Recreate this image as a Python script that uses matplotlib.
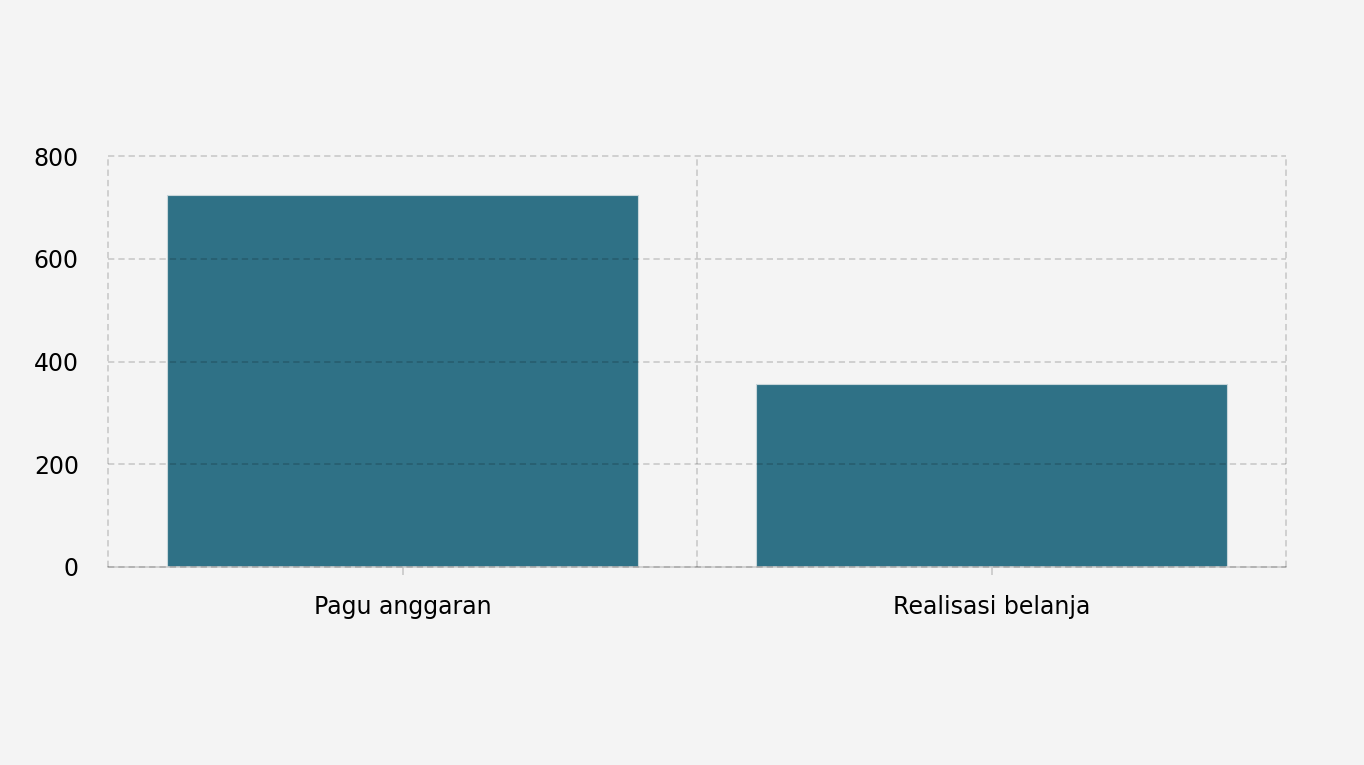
import matplotlib
matplotlib.use("Agg")
import matplotlib.pyplot as plt
import numpy as np

categories = ["Pagu anggaran", "Realisasi belanja"]
values = [724, 356]
y_ticks = [0, 200, 400, 600, 800]

bg = "#f4f4f4"
bar_color = "#2f7186"

fig = plt.figure(figsize=(13.64, 7.65), dpi=100, facecolor=bg)
ax = fig.add_axes([108 / 1364, 1 - 567 / 765, (1286 - 108) / 1364, (567 - 156) / 765])
ax.set_facecolor(bg)

x = np.arange(len(categories))
ax.bar(x, values, width=0.8, color=bar_color, edgecolor="#c8d6da", linewidth=0.8, zorder=1)

ax.set_xlim(-0.5, len(categories) - 0.5)
ax.set_ylim(0, 800)
ax.set_yticks(y_ticks)
ax.set_xticks(x)
ax.set_xticklabels(categories)
ax.set_xticks(np.arange(len(categories) + 1) - 0.5, minor=True)

# dashed grid on top of the bars, slightly transparent
grid_kw = dict(color="black", alpha=0.16, linestyle=(0, (3.5, 2.2)), linewidth=1.3, zorder=3, clip_on=False)
ax.grid(axis="y", which="major", **grid_kw)
ax.grid(axis="x", which="minor", **grid_kw)
ax.set_axisbelow(False)

for s in ["top", "right", "left"]:
    ax.spines[s].set_visible(False)
ax.spines["bottom"].set_color("#cccccc")
ax.spines["bottom"].set_linewidth(1.2)

ax.tick_params(axis="y", length=0, labelsize=17, pad=21, colors="black")
ax.tick_params(axis="x", which="major", length=6, width=1.1, color="#c4c4c4", labelsize=17, pad=14)
ax.tick_params(axis="x", which="minor", length=0)

fig.savefig("out.png", dpi=100, facecolor=bg)
